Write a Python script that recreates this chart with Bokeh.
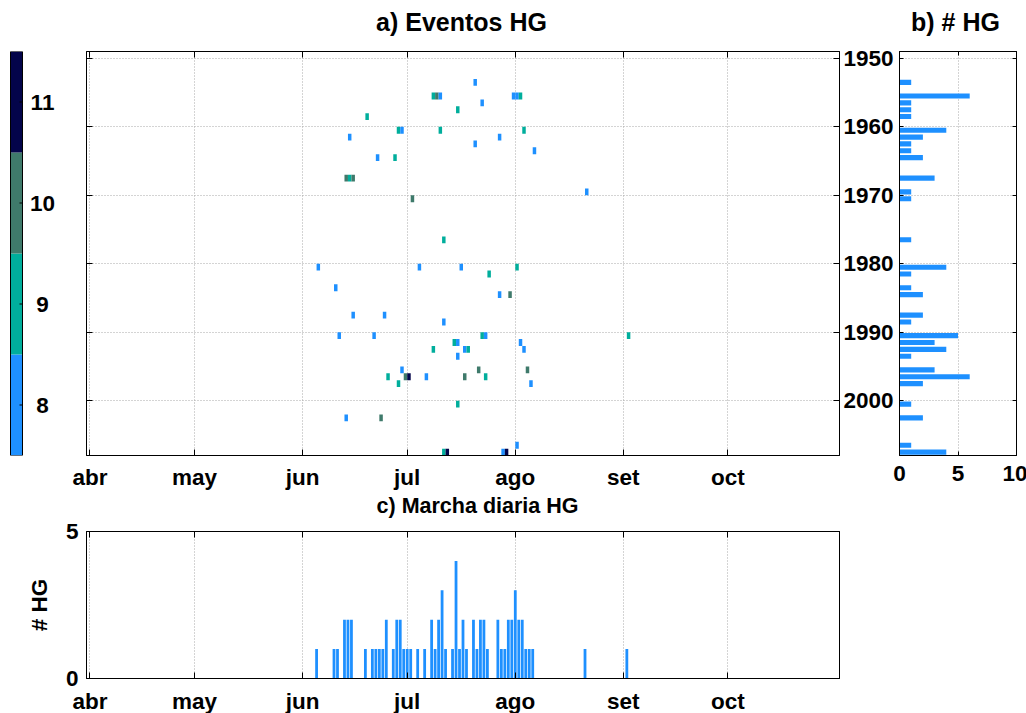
from bokeh.plotting import figure
from bokeh.models import Range1d, FixedTicker, LinearAxis, LinearColorMapper, ColumnDataSource
from bokeh.layouts import row, column
from bokeh.embed import file_html
from bokeh.resources import INLINE
from bokeh.core.properties import value
from bokeh.transform import transform

# ---------------- data ----------------
# a) events: year, day (days after 1 April), class value
ev_year = [1953,
           1955, 1955, 1955, 1955, 1955, 1955,
           1956, 1957, 1958,
           1960, 1960, 1960, 1960,
           1961, 1961, 1962, 1963, 1964, 1964,
           1967, 1967, 1967, 1969, 1970, 1976,
           1980, 1980, 1980, 1980, 1981, 1983, 1984, 1984,
           1987, 1987, 1988,
           1990, 1990, 1990, 1990, 1990,
           1991, 1991, 1991,
           1992, 1992, 1992, 1992, 1993,
           1995, 1995, 1995,
           1996, 1996, 1996, 1996, 1996, 1996,
           1997, 1997, 2000, 2002, 2002, 2006,
           2007, 2007, 2007, 2007]
ev_day = [110,
          98, 99, 100, 121, 122, 123,
          112, 105, 79,
          88, 89, 100, 124,
          74, 117, 110, 127, 82, 87,
          73, 74, 75, 142, 92, 101,
          65, 94, 106, 122, 114, 70, 117, 120,
          75, 84, 101,
          71, 81, 112, 113, 154,
          104, 105, 123,
          98, 107, 108, 124, 105,
          89, 111, 125,
          85, 90, 91, 96, 107, 113,
          88, 126, 105, 73, 83, 122,
          101, 102, 118, 119]
ev_val = [8,
          9, 10, 8, 8, 8, 9,
          8, 9, 9,
          9, 8, 9, 9,
          8, 8, 8, 8, 8, 9,
          10, 9, 10, 8, 10, 9,
          8, 8, 8, 9, 9, 8, 8, 10,
          8, 8, 8,
          8, 8, 9, 8, 9,
          9, 8, 8,
          9, 8, 9, 8, 8,
          8, 10, 10,
          9, 10, 11, 8, 10, 9,
          9, 8, 9, 8, 10, 8,
          9, 11, 8, 11]

# b) events per year
yr_years = [1953, 1955, 1956, 1957, 1958, 1960, 1961, 1962, 1963, 1964, 1967, 1969, 1970,
            1976, 1980, 1981, 1983, 1984, 1987, 1988, 1990, 1991, 1992, 1993, 1995, 1996,
            1997, 2000, 2002, 2006, 2007]
yr_counts = [1, 6, 1, 1, 1, 4, 2, 1, 1, 2, 3, 1, 1,
             1, 4, 1, 1, 2, 2, 1, 5, 3, 4, 1, 3, 6,
             2, 1, 2, 1, 4]

# c) events per day (days after 1 April)
dd_days = [65, 70, 71, 73, 74, 75, 79, 81, 82, 83, 84, 85, 87, 88, 89, 90, 91, 92, 94, 96,
           98, 99, 100, 101, 102, 104, 105, 106, 107, 108, 110, 111, 112, 113, 114, 117,
           118, 119, 120, 121, 122, 123, 124, 125, 126, 127, 142, 154]
dd_counts = [1, 1, 1, 2, 2, 2, 1, 1, 1, 1, 1, 2, 1, 2, 2, 1, 1, 1, 1, 1,
             2, 1, 2, 3, 1, 1, 4, 1, 2, 1, 2, 1, 2, 2, 1, 2,
             1, 1, 2, 2, 3, 2, 2, 1, 1, 1, 1, 1]

month_ticks = [0, 30, 61, 91, 122, 153, 183]
month_labels = ["abr", "may", "jun", "jul", "ago", "set", "oct"]
decade_ticks = [1950, 1960, 1970, 1980, 1990, 2000]
cb_values = [8, 9, 10, 11]
cb_labels = ["8", "9", "10", "11"]
palette = ["#1e90ff", "#00ae9c", "#3f7a6b", "#03044a"]
bar_color = "#1e90ff"
top_titles = ["a) Eventos HG", "b) # HG"]
c_title = ["c) Marcha diaria HG"]

FONT = "Liberation Sans"
TICK_FS = "22.5px"
TITLE_FS = "25px"
GRID_COLOR = "#a8a8a8"
TOTAL_W = 1025
LEFT = 86  # left edge of the plot frames of a) and c)


def style_axis(ax, tick_in, show_labels=True, standoff=8):
    ax.axis_line_color = "black"
    ax.axis_line_width = 1
    ax.major_tick_line_color = "black"
    ax.major_tick_in = tick_in
    ax.major_tick_out = 0
    ax.minor_tick_line_color = None
    if show_labels:
        ax.major_label_text_font = FONT
        ax.major_label_text_font_style = "bold"
        ax.major_label_text_font_size = TICK_FS
        ax.major_label_text_color = "black"
        ax.major_label_standoff = standoff
    else:
        ax.major_label_text_font_size = "0px"
        ax.major_label_text_color = None
        ax.major_label_standoff = 0


def style_grid(p):
    for g in p.grid:
        g.grid_line_color = GRID_COLOR
        g.grid_line_dash = "1 2"
        g.grid_line_width = 1


def strip(right, height):
    # a blank band (x in page pixels, y from the top) that holds title text;
    # its frame starts at LEFT like the frame of panel c)
    s = figure(output_backend="svg", toolbar_location=None, tools="",
               frame_width=right - LEFT, frame_height=height,
               min_border_left=LEFT, min_border_right=0, min_border_top=0, min_border_bottom=0,
               x_range=Range1d(LEFT, right), y_range=Range1d(height, 0),
               x_axis_type=None, y_axis_type=None, outline_line_color=None)
    s.grid.visible = False
    return s


def strip_text(s, xs, ys, texts, fs):
    s.text(x=xs, y=ys, text=texts, text_align="center", text_baseline="middle",
           text_font=value(FONT), text_font_style="bold", text_font_size=fs,
           text_color="black")


month_overrides = {t: l for t, l in zip(month_ticks, month_labels)}
mapper = LinearColorMapper(palette=palette, low=7.5, high=11.5)

STRIP_H = 38
TOP = 13
FRAME_H = 404
ROW_BOTTOM = 35

# ---------------- title band for a) and b) ----------------
ptop = strip(TOTAL_W, STRIP_H)
strip_text(ptop, [461, 955], [21, 21], top_titles, TITLE_FS)

# ---------------- colorbar ----------------
pcb = figure(output_backend="svg", toolbar_location=None, tools="",
             frame_width=60, frame_height=FRAME_H,
             min_border_left=0, min_border_right=0, min_border_top=TOP, min_border_bottom=ROW_BOTTOM,
             x_range=Range1d(0, 60), y_range=Range1d(7.5, 11.5),
             x_axis_type=None, y_axis_type=None, outline_line_color=None)
pcb.grid.visible = False
cb_src = ColumnDataSource(dict(v=cb_values, lo=[v - 0.5 for v in cb_values],
                               hi=[v + 0.5 for v in cb_values], lab=cb_labels))
pcb.quad(left=10, right=22, bottom="lo", top="hi", fill_color=transform("v", mapper),
         line_color=None, source=cb_src)
pcb.quad(left=10, right=22, bottom=7.5, top=11.5, fill_color=None, line_color="black", line_width=1)
pcb.segment(x0=19, x1=22, y0="v", y1="v", line_color="black", line_width=1, source=cb_src)
pcb.text(x=42, y="v", text="lab", text_align="center", text_baseline="middle",
         text_font=value(FONT), text_font_style="bold", text_font_size=TICK_FS,
         text_color="black", source=cb_src)

# ---------------- a) heatmap ----------------
pa = figure(output_backend="svg", toolbar_location=None, tools="",
            frame_width=753, frame_height=FRAME_H,
            min_border_left=26, min_border_right=1, min_border_top=TOP, min_border_bottom=ROW_BOTTOM,
            x_range=Range1d(-1, 215), y_range=Range1d(2008, 1949))
ev_src = ColumnDataSource(dict(d=ev_day, d1=[d + 1 for d in ev_day],
                               y=ev_year, y1=[y + 1 for y in ev_year], v=ev_val))
pa.quad(left="d", right="d1", bottom="y", top="y1", fill_color=transform("v", mapper),
        line_color=None, source=ev_src)
pa.xaxis.ticker = FixedTicker(ticks=month_ticks)
pa.xaxis.major_label_overrides = month_overrides
style_axis(pa.xaxis[0], 6, True, 9)
pa.yaxis.ticker = FixedTicker(ticks=decade_ticks)
style_axis(pa.yaxis[0], 6, False)
ax_top = LinearAxis(ticker=FixedTicker(ticks=month_ticks))
style_axis(ax_top, 6, False)
pa.add_layout(ax_top, "above")
ax_r = LinearAxis(ticker=FixedTicker(ticks=decade_ticks))
style_axis(ax_r, 6, False)
pa.add_layout(ax_r, "right")
pa.xgrid.ticker = FixedTicker(ticks=month_ticks)
pa.ygrid.ticker = FixedTicker(ticks=decade_ticks)
style_grid(pa)
pa.outline_line_color = "black"

# ---------------- b) yearly counts ----------------
pb = figure(output_backend="svg", toolbar_location=None, tools="",
            frame_width=117, frame_height=FRAME_H,
            min_border_left=57, min_border_right=11, min_border_top=TOP, min_border_bottom=ROW_BOTTOM,
            x_range=Range1d(0, 10), y_range=Range1d(2008, 1949))
yr_src = ColumnDataSource(dict(yc=[y + 0.5 for y in yr_years], n=yr_counts))
pb.hbar(y="yc", left=0, right="n", height=0.75, fill_color=bar_color, line_color=None, source=yr_src)
pb.xaxis.ticker = FixedTicker(ticks=[0, 5, 10])
style_axis(pb.xaxis[0], 4, True, 10)
pb.yaxis.ticker = FixedTicker(ticks=decade_ticks)
style_axis(pb.yaxis[0], 4, True, 6)
bt = LinearAxis(ticker=FixedTicker(ticks=[0, 5, 10]))
style_axis(bt, 4, False)
pb.add_layout(bt, "above")
br = LinearAxis(ticker=FixedTicker(ticks=decade_ticks))
style_axis(br, 4, False)
pb.add_layout(br, "right")
pb.xgrid.ticker = FixedTicker(ticks=[0, 5, 10])
pb.ygrid.ticker = FixedTicker(ticks=decade_ticks)
style_grid(pb)
pb.outline_line_color = "black"

# ---------------- title band for c) ----------------
CSTRIP_H = 27
pmid = strip(849, CSTRIP_H)
strip_text(pmid, [477], [13], c_title, "21.5px")

# ---------------- c) daily counts ----------------
pc = figure(output_backend="svg", toolbar_location=None, tools="",
            frame_width=753, frame_height=147,
            min_border_left=LEFT, min_border_right=10, min_border_top=12, min_border_bottom=36,
            x_range=Range1d(-1, 215), y_range=Range1d(0, 5))
dd_src = ColumnDataSource(dict(x=dd_days, n=dd_counts))
pc.vbar(x="x", top="n", bottom=0, width=0.8, fill_color=bar_color, line_color=None, source=dd_src)
pc.xaxis.ticker = FixedTicker(ticks=month_ticks)
pc.xaxis.major_label_overrides = month_overrides
style_axis(pc.xaxis[0], 6, True, 10)
pc.yaxis.ticker = FixedTicker(ticks=[0, 5])
style_axis(pc.yaxis[0], 6, True, 8)
pc.yaxis.axis_label = "# HG"
pc.yaxis.axis_label_text_font = FONT
pc.yaxis.axis_label_text_font_style = "bold"
pc.yaxis.axis_label_text_font_size = TICK_FS
pc.yaxis.axis_label_text_color = "black"
pc.yaxis.axis_label_standoff = 11
ct = LinearAxis(ticker=FixedTicker(ticks=month_ticks))
style_axis(ct, 6, False)
pc.add_layout(ct, "above")
cr = LinearAxis(ticker=FixedTicker(ticks=[0, 5]))
style_axis(cr, 6, False)
pc.add_layout(cr, "right")
pc.xgrid.ticker = FixedTicker(ticks=month_ticks)
pc.ygrid.visible = False
style_grid(pc)
pc.outline_line_color = "black"

layout = column(ptop, row(pcb, pa, pb), pmid, pc)

open("out.html", "w").write(file_html(layout, INLINE))
